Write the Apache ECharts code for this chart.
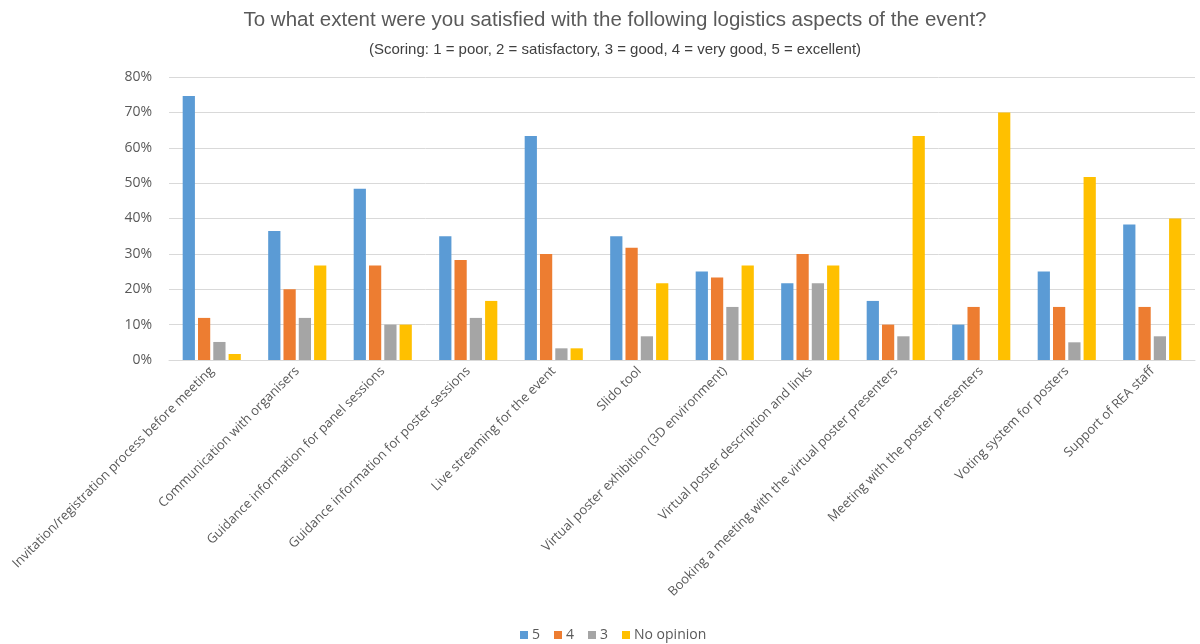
<!DOCTYPE html>
<html>
<head>
<meta charset="utf-8">
<script src="https://cdn.jsdelivr.net/npm/echarts@6/dist/echarts.min.js"></script>
<style>html,body{margin:0;padding:0;background:#fff;}#c{width:1200px;height:644px;}</style>
</head>
<body>
<div id="c"></div>
<script>
const categories = [
  'Invitation/registration process before meeting',
  'Communication with organisers',
  'Guidance information for panel sessions',
  'Guidance information for poster sessions',
  'Live streaming for the event',
  'Slido tool',
  'Virtual poster exhibition (3D environment)',
  'Virtual poster description and links',
  'Booking a meeting with the virtual poster presenters',
  'Meeting with the poster presenters',
  'Voting system for posters',
  'Support of REA staff'
];
const seriesNames = ['5', '4', '3', 'No opinion'];
const score5 = [74.6, 36.5, 48.4, 35.0, 63.3, 35.0, 25.0, 21.7, 16.7, 10.0, 25.0, 38.3];
const score4 = [11.9, 20.0, 26.7, 28.3, 30.0, 31.7, 23.3, 30.0, 10.0, 15.0, 15.0, 15.0];
const score3 = [5.1, 11.9, 10.0, 11.9, 3.3, 6.7, 15.0, 21.7, 6.7, 0, 5.0, 6.7];
const noOpinion = [1.7, 26.7, 10.0, 16.7, 3.3, 21.7, 26.7, 26.7, 63.3, 70.0, 51.7, 40.0];
const yTicks = [0, 10, 20, 30, 40, 50, 60, 70, 80];
const colors = ['#5B9BD5', '#ED7D31', '#A5A5A5', '#FFC000'];

const chart = echarts.init(document.getElementById('c'), null, {renderer: 'canvas'});
const txt = '#595959';
const dataSets = [score5, score4, score3, noOpinion];
chart.setOption({
  animation: false,
  backgroundColor: '#fff',
  color: colors,
  title: [
    {text: 'To what extent were you satisfied with the following logistics aspects of the event?',
     left: 610, top: 5, textAlign: 'center',
     textStyle: {fontFamily: 'Liberation Sans, Arial, sans-serif', fontSize: 20.5, fontWeight: 'normal', color: txt}},
    {text: '(Scoring: 1 = poor, 2 = satisfactory, 3 = good, 4 = very good, 5 = excellent)',
     left: 610, top: 37, textAlign: 'center',
     textStyle: {fontFamily: 'Liberation Sans, Arial, sans-serif', fontSize: 15, fontWeight: 'normal', color: '#404040'}}
  ],
  legend: {
    data: seriesNames, top: 623, left: 515,
    itemWidth: 8, itemHeight: 8, itemGap: 14, icon: 'rect',
    textStyle: {color: txt, fontSize: 14, fontFamily: 'Open Sans, sans-serif', padding: [0,0,0,-1]}
  },
  grid: {left: 169, right: 5, top: 77, bottom: 284, containLabel: false},
  xAxis: {
    type: 'category', data: categories,
    axisLine: {lineStyle: {color: '#d9d9d9', width: 1}},
    axisTick: {show: false},
    axisLabel: {interval: 0, rotate: 45, color: txt, fontSize: 13, fontFamily: 'Open Sans, sans-serif', margin: 9}
  },
  yAxis: {
    type: 'value', min: 0, max: 80, interval: 10,
    axisLine: {show: false}, axisTick: {show: false},
    splitLine: {lineStyle: {color: '#d9d9d9', width: 1}},
    axisLabel: {color: txt, fontSize: 14, fontFamily: 'Open Sans, sans-serif', margin: 17,
      formatter: v => yTicks.includes(v) ? v + '%' : ''}
  },
  series: seriesNames.map((n, i) => ({
    name: n, type: 'bar', data: dataSets[i],
    barGap: '25%', barCategoryGap: '32%',
    itemStyle: {color: colors[i]}
  }))
});
</script>
</body>
</html>
